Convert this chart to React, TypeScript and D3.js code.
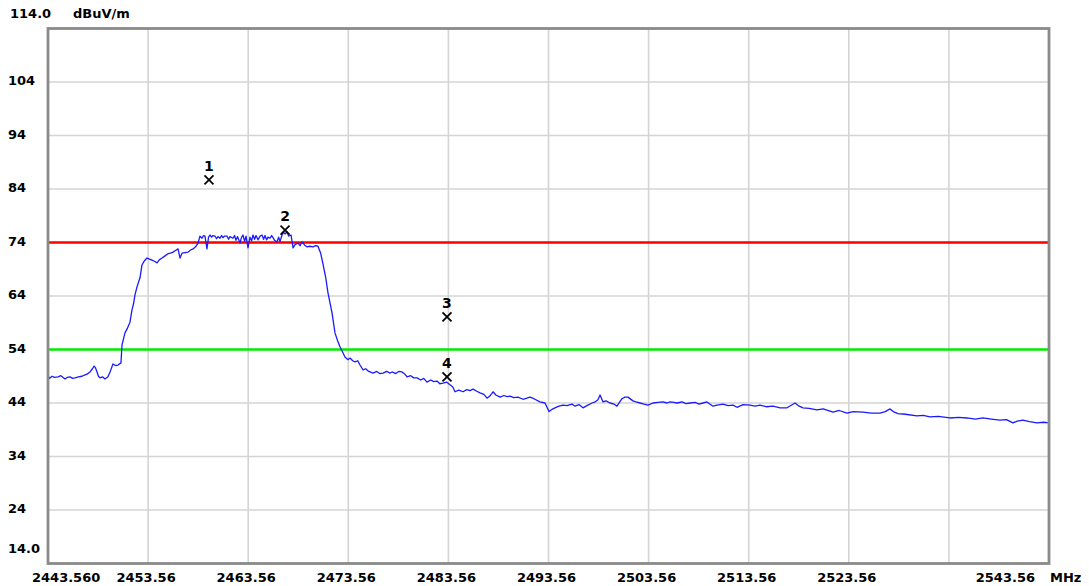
import React from 'react';
import * as d3 from 'd3';

// y axis (dBuV/m) and x axis (MHz)
const yGrid = [104, 94, 84, 74, 64, 54, 44, 34, 24];
const yLabels = ['104', '94', '84', '74', '64', '54', '44', '34', '24'];
const xGrid = [2453.56, 2463.56, 2473.56, 2483.56, 2493.56, 2503.56, 2513.56, 2523.56, 2533.56];
const xLabelValues = [2443.56, 2453.56, 2463.56, 2473.56, 2483.56, 2493.56, 2503.56, 2513.56, 2523.56, 2543.56];
const xLabelTexts = ['2443.560', '2453.56', '2463.56', '2473.56', '2483.56', '2493.56', '2503.56', '2513.56', '2523.56', '2543.56'];

// limit lines
const redLimit = 74;
const greenLimit = 54;

// markers: [label, freq, level]
const markers: [string, number, number][] = [
  ['1', 2459.64, 85.7],
  ['2', 2467.24, 76.3],
  ['3', 2483.42, 60.1],
  ['4', 2483.42, 48.9],
];

// measured trace [MHz, dBuV/m]
const trace: [number, number][] = [
  [2443.56, 49.2], [2443.70, 48.6], [2443.96, 49.0], [2444.20, 48.8], [2444.56, 48.9], [2444.85, 49.1],
  [2445.26, 48.5], [2445.50, 48.8], [2445.76, 48.9], [2446.00, 48.6], [2446.26, 48.7], [2446.60, 48.9],
  [2446.96, 49.0], [2447.20, 49.2], [2447.46, 49.4], [2447.76, 49.8], [2448.00, 50.4], [2448.16, 50.9],
  [2448.30, 50.6], [2448.46, 49.8], [2448.60, 49.0], [2448.76, 48.7], [2449.00, 48.9], [2449.25, 48.5],
  [2449.55, 48.9], [2449.80, 50.0], [2450.05, 51.3], [2450.30, 51.0], [2450.55, 51.1], [2450.85, 51.5],
  [2450.95, 54.8], [2451.25, 57.1], [2451.50, 58.0], [2451.75, 59.1], [2451.95, 61.4], [2452.10, 62.5],
  [2452.25, 64.2], [2452.45, 65.7], [2452.75, 67.4], [2452.95, 69.8], [2453.20, 70.6], [2453.45, 71.1],
  [2453.70, 70.9], [2453.95, 70.7], [2454.20, 70.5], [2454.45, 70.2], [2454.70, 70.8], [2454.95, 71.1],
  [2455.25, 71.5], [2455.55, 71.9], [2455.80, 72.0], [2456.05, 72.2], [2456.30, 72.5], [2456.55, 72.8],
  [2456.75, 71.1], [2456.95, 72.0], [2457.25, 72.1], [2457.55, 72.2], [2457.80, 72.6], [2458.05, 72.8],
  [2458.30, 73.2], [2458.55, 73.9], [2458.74, 75.2], [2458.94, 74.8], [2459.10, 75.3], [2459.24, 75.2],
  [2459.44, 72.8], [2459.60, 75.0], [2459.74, 75.4], [2459.90, 75.0], [2460.04, 75.3], [2460.24, 75.2],
  [2460.40, 74.7], [2460.54, 75.1], [2460.74, 74.8], [2460.90, 75.3], [2461.04, 74.9], [2461.20, 75.2],
  [2461.44, 75.2], [2461.60, 74.6], [2461.74, 75.1], [2462.04, 74.8], [2462.20, 75.3], [2462.34, 74.4],
  [2462.50, 75.1], [2462.74, 73.9], [2462.90, 75.0], [2463.04, 75.4], [2463.20, 74.2], [2463.34, 75.2],
  [2463.54, 73.0], [2463.74, 75.0], [2463.90, 74.3], [2464.04, 75.4], [2464.20, 74.6], [2464.34, 75.3],
  [2464.54, 74.5], [2464.74, 75.2], [2464.94, 75.4], [2465.10, 74.6], [2465.24, 75.3], [2465.40, 74.5],
  [2465.54, 75.0], [2465.74, 74.8], [2465.90, 75.3], [2466.04, 74.9], [2466.20, 74.4], [2466.44, 74.1],
  [2466.60, 75.0], [2466.74, 74.2], [2466.94, 75.4], [2467.10, 75.9], [2467.24, 75.6], [2467.44, 76.0],
  [2467.60, 75.2], [2467.84, 75.4], [2468.04, 73.0], [2468.24, 73.6], [2468.54, 73.9], [2468.74, 73.4],
  [2468.94, 74.1], [2469.20, 73.5], [2469.43, 73.2], [2469.70, 73.3], [2470.03, 73.2], [2470.30, 73.4],
  [2470.53, 73.3], [2470.80, 72.0], [2471.03, 70.0], [2471.30, 67.5], [2471.53, 64.6], [2471.93, 60.9],
  [2472.23, 57.1], [2472.50, 55.6], [2472.73, 54.5], [2473.00, 53.5], [2473.23, 52.6], [2473.53, 52.1],
  [2473.73, 52.4], [2474.00, 51.9], [2474.23, 51.7], [2474.50, 51.9], [2474.73, 51.1], [2475.03, 50.2],
  [2475.30, 50.4], [2475.60, 49.9], [2476.03, 49.6], [2476.40, 49.9], [2476.70, 49.5], [2477.03, 49.6],
  [2477.40, 49.9], [2477.70, 49.6], [2477.93, 49.8], [2478.30, 49.5], [2478.60, 49.9], [2478.93, 49.8],
  [2479.20, 49.4], [2479.43, 48.9], [2479.80, 49.1], [2480.10, 48.7], [2480.43, 48.7], [2480.80, 48.3],
  [2481.10, 48.6], [2481.42, 47.9], [2481.80, 48.3], [2482.10, 48.0], [2482.42, 48.1], [2482.70, 47.6],
  [2483.02, 47.7], [2483.40, 47.9], [2483.72, 47.4], [2484.00, 47.0], [2484.22, 46.1], [2484.60, 46.4],
  [2485.02, 46.1], [2485.40, 46.5], [2485.70, 46.3], [2486.02, 46.6], [2486.40, 46.2], [2486.72, 45.9],
  [2487.10, 45.6], [2487.42, 44.9], [2487.70, 45.3], [2488.02, 46.1], [2488.30, 45.5], [2488.72, 45.1],
  [2489.10, 45.4], [2489.40, 45.2], [2489.72, 45.3], [2490.10, 45.0], [2490.50, 45.1], [2491.02, 44.7],
  [2491.40, 44.9], [2491.71, 45.1], [2492.10, 44.8], [2492.71, 44.2], [2493.21, 44.0], [2493.61, 42.4],
  [2493.90, 42.8], [2494.21, 43.1], [2494.60, 43.4], [2495.01, 43.6], [2495.40, 43.5], [2495.91, 43.8],
  [2496.21, 43.4], [2496.60, 43.7], [2497.01, 43.1], [2497.40, 43.5], [2497.91, 44.0], [2498.21, 44.2],
  [2498.50, 44.6], [2498.71, 45.5], [2499.01, 44.2], [2499.30, 44.4], [2499.71, 44.0], [2500.10, 43.8],
  [2500.40, 43.4], [2500.90, 44.8], [2501.20, 45.1], [2501.50, 45.1], [2502.00, 44.4], [2502.30, 44.2],
  [2502.70, 44.0], [2503.10, 43.8], [2503.50, 43.6], [2504.00, 44.0], [2504.50, 44.1], [2505.00, 44.2],
  [2505.40, 44.0], [2505.70, 44.2], [2506.10, 44.1], [2506.40, 44.0], [2506.90, 44.2], [2507.30, 43.9],
  [2507.70, 44.0], [2508.20, 44.1], [2508.60, 43.8], [2509.00, 44.0], [2509.39, 44.2], [2509.99, 43.4],
  [2510.39, 43.6], [2510.99, 43.8], [2511.50, 43.5], [2512.00, 43.6], [2512.39, 43.2], [2513.00, 43.7],
  [2513.69, 43.6], [2514.20, 43.4], [2514.69, 43.6], [2515.30, 43.3], [2516.00, 43.4], [2516.69, 43.1],
  [2517.39, 43.1], [2518.19, 44.0], [2518.60, 43.4], [2518.98, 43.1], [2519.60, 43.0], [2520.38, 42.7],
  [2521.00, 42.9], [2521.98, 42.3], [2522.60, 42.6], [2523.38, 42.1], [2524.00, 42.4], [2524.98, 42.3],
  [2525.80, 42.1], [2526.68, 42.1], [2527.20, 42.4], [2527.68, 42.9], [2528.00, 42.4], [2528.47, 42.0],
  [2529.20, 41.9], [2530.37, 41.6], [2531.00, 41.7], [2531.67, 41.4], [2532.50, 41.5], [2533.66, 41.2],
  [2534.50, 41.3], [2535.36, 41.2], [2536.20, 41.0], [2536.96, 41.2], [2537.80, 41.0], [2538.66, 40.8],
  [2539.30, 40.9], [2539.96, 40.3], [2540.40, 40.6], [2540.96, 40.8], [2541.60, 40.5], [2542.36, 40.3],
  [2543.00, 40.4], [2543.56, 40.3],
];

const W = 1089;
const H = 586;
const plot = { left: 48, right: 1049, top: 28.5, bottom: 563.5 };
const font = "'DejaVu Sans', Verdana, sans-serif";

export default function App() {
  const x = d3.scaleLinear().domain([2443.56, 2543.56]).range([plot.left, plot.right]);
  const y = d3.scaleLinear().domain([14, 114]).range([plot.bottom, plot.top]);

  const line = d3.line<[number, number]>()
    .x(d => x(d[0]))
    .y(d => y(d[1]));

  const lastIdx = xLabelValues.length - 1;

  return (
    <svg
      width={W}
      height={H}
      style={{ position: 'absolute', left: 0, top: 0, background: '#fff' }}
      fontFamily={font}
    >
      {/* grid */}
      {yGrid.map(v => (
        <line key={'gy' + v} x1={plot.left} x2={plot.right} y1={y(v)} y2={y(v)} stroke="#d4d4d4" strokeWidth={1.6} />
      ))}
      {xGrid.map(v => (
        <line key={'gx' + v} x1={x(v)} x2={x(v)} y1={plot.top} y2={plot.bottom} stroke="#d4d4d4" strokeWidth={1.6} />
      ))}

      {/* limit lines */}
      <line x1={plot.left} x2={plot.right} y1={y(redLimit)} y2={y(redLimit)} stroke="#ff0000" strokeWidth={2.4} />
      <line x1={plot.left} x2={plot.right} y1={y(greenLimit)} y2={y(greenLimit)} stroke="#00ee00" strokeWidth={2.4} />

      {/* trace */}
      <path d={line(trace) || ''} fill="none" stroke="#1a1aff" strokeWidth={1.3} strokeLinejoin="round" />

      {/* frame */}
      <rect
        x={plot.left}
        y={plot.top}
        width={plot.right - plot.left}
        height={plot.bottom - plot.top}
        fill="none"
        stroke="#8a8a8a"
        strokeWidth={2.8}
      />

      {/* markers */}
      {markers.map(([label, f, lv]) => {
        const cx = x(f);
        const cy = y(lv);
        const s = 4.5;
        return (
          <g key={'m' + label}>
            <line x1={cx - s} y1={cy - s} x2={cx + s} y2={cy + s} stroke="#000" strokeWidth={1.7} />
            <line x1={cx - s} y1={cy + s} x2={cx + s} y2={cy - s} stroke="#000" strokeWidth={1.7} />
            <text x={cx} y={cy - 9} textAnchor="middle" fontSize={14} fontWeight={600} fill="#000">{label}</text>
          </g>
        );
      })}

      {/* y labels */}
      <text x={10} y={18} fontSize={13} fontWeight="bold" fill="#000">114.0</text>
      <text x={73} y={18} fontSize={13} fontWeight="bold" fill="#000">dBuV/m</text>
      {yGrid.map((v, i) => (
        <text key={'yl' + v} x={8} y={y(v) + 3} fontSize={13} fontWeight="bold" fill="#000">{yLabels[i]}</text>
      ))}
      <text x={8} y={553} fontSize={13} fontWeight="bold" fill="#000">14.0</text>

      {/* x labels */}
      {xLabelValues.map((v, i) => {
        let px = x(v) - 2;
        let anchor: 'start' | 'middle' | 'end' = 'middle';
        if (i === 0) { px = x(v) - 16; anchor = 'start'; }
        if (i === lastIdx) { px = x(v) - 14; anchor = 'end'; }
        return (
          <text key={'xl' + v} x={px} y={582} textAnchor={anchor} fontSize={13} fontWeight="bold" fill="#000">
            {xLabelTexts[i]}
          </text>
        );
      })}
      <text x={1050} y={582} fontSize={13} fontWeight="bold" fill="#000">MHz</text>
    </svg>
  );
}
